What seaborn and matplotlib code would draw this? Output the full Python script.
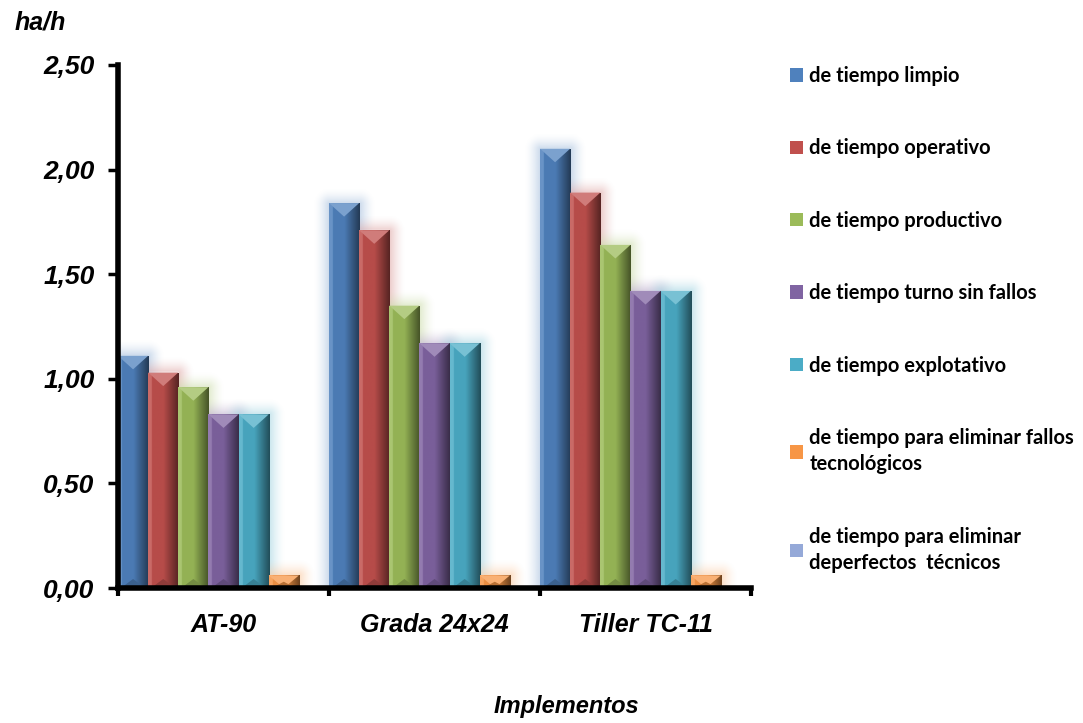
import numpy as np
import pandas as pd
import seaborn as sns
import matplotlib
matplotlib.use("Agg")
import matplotlib.pyplot as plt
from matplotlib.colors import to_rgb
from matplotlib.patches import Patch, Polygon
from matplotlib.ticker import FuncFormatter, FixedLocator

# --- data -------------------------------------------------------------
implementos = ["AT-90", "Grada 24x24", "Tiller TC-11"]
series = [
    "de tiempo limpio",
    "de tiempo operativo",
    "de tiempo productivo",
    "de tiempo turno sin fallos",
    "de tiempo explotativo",
    "de tiempo para eliminar fallos\ntecnológicos",
    "de tiempo para eliminar\ndeperfectos  técnicos",
]
limpio = [1.11, 1.84, 2.10]
operativo = [1.03, 1.71, 1.89]
productivo = [0.96, 1.35, 1.64]
turno_sin_fallos = [0.83, 1.17, 1.42]
explotativo = [0.83, 1.17, 1.42]
fallos_tecnologicos = [0.06, 0.06, 0.06]
desperfectos_tecnicos = [0.0, 0.0, 0.0]
y_ticks = [0.0, 0.5, 1.0, 1.5, 2.0, 2.5]

colores = ["#4F81BD", "#C0504D", "#9BBB59", "#8064A2",
           "#4BACC6", "#F79646", "#95A9D8"]

valores = [limpio, operativo, productivo, turno_sin_fallos,
           explotativo, fallos_tecnologicos, desperfectos_tecnicos]
df = pd.DataFrame(
    [(imp, s, v[i]) for s, v in zip(series, valores)
     for i, imp in enumerate(implementos)],
    columns=["Implemento", "Serie", "Valor"],
)

# --- figure -----------------------------------------------------------
sns.set_style("white")
plt.rcParams["text.color"] = "black"
plt.rcParams["xtick.color"] = "black"
plt.rcParams["ytick.color"] = "black"
plt.rcParams["axes.labelcolor"] = "black"

W, H = 1083, 723
fig = plt.figure(figsize=(W / 100, H / 100), dpi=100)
ax = fig.add_axes([118 / W, 1 - 588 / H, 633 / W, 523 / H])

sns.barplot(data=df, x="Implemento", y="Valor", hue="Serie",
            hue_order=series, order=implementos, palette=colores,
            saturation=1, width=1.0, gap=0, ax=ax, legend=False,
            edgecolor="none", linewidth=0, zorder=3)

ax.set_xlim(-0.5, 2.5)
ax.set_ylim(0, 2.5)

# pixel <-> data scale for shading details
px_x = (633 / 3.0)
px_y = (523 / 2.5)


def shade(c, f):
    c = np.array(to_rgb(c))
    if f >= 1:
        return np.clip(c + (1 - c) * (f - 1), 0, 1)
    return np.clip(c * f, 0, 1)


bars = [p for p in ax.patches if p.get_height() > 0]
for p in bars:
    x0, y0 = p.get_x(), p.get_y()
    w, h = p.get_width(), p.get_height()
    base = np.array(to_rgb(p.get_facecolor()))

    # soft halo around the top and right side
    R = 16.0
    m = R / px_x
    my = R / px_y
    gx = np.linspace(x0 - m, x0 + w + m, 80)
    gy = np.linspace(y0, y0 + h + my, 160)
    GX, GY = np.meshgrid(gx, gy)
    dx = np.maximum(np.maximum(x0 - GX, GX - (x0 + w)), 0) * px_x
    dy = np.maximum(GY - (y0 + h), 0) * px_y
    d = np.hypot(dx, dy)
    a = np.clip(1 - d / R, 0, 1) ** 1.6 * 0.6
    a[d == 0] = 0
    glow = np.zeros(GX.shape + (4,))
    glow[..., :3] = base * 0.5 + 0.5
    glow[..., 3] = a
    ax.imshow(glow, extent=(gx[0], gx[-1], gy[0], gy[-1]), origin="lower",
              aspect="auto", interpolation="bilinear", zorder=2)

    # horizontal bevel gradient across the bar
    u = np.linspace(0, 1, 64)
    f = np.where(u < 0.12, 1.15,
                 np.where(u < 0.5, 0.95, 0.95 - (u - 0.5) / 0.5 * 0.5))
    grad = np.array([shade(base, fi) for fi in f])[None, :, :]
    im = ax.imshow(grad, extent=(x0, x0 + w, y0, y0 + h), origin="lower",
                   aspect="auto", interpolation="bilinear", zorder=4)
    im.set_clip_path(p)

    # bevelled top facet
    th = min(0.45 * w * px_x / px_y, h)
    ax.add_patch(Polygon([(x0, y0 + h), (x0 + w, y0 + h),
                          (x0 + w / 2, y0 + h - th)], closed=True,
                         facecolor=shade(base, 1.25), edgecolor="none",
                         zorder=5))
    # darker bottom facet
    bh = min(0.3 * w * px_x / px_y, h / 2)
    ax.add_patch(Polygon([(x0 + 0.1 * w, y0), (x0 + 0.9 * w, y0),
                          (x0 + w / 2, y0 + bh)], closed=True,
                         facecolor=shade(base, 0.75), edgecolor="none",
                         zorder=5))

ax.set_xlim(-0.5, 2.5)
ax.set_ylim(0, 2.5)

# --- axes styling -----------------------------------------------------
for s in ["top", "right"]:
    ax.spines[s].set_visible(False)
for s in ["left", "bottom"]:
    ax.spines[s].set_linewidth(4)
    ax.spines[s].set_color("black")
    ax.spines[s].set_zorder(6)

tick_font = dict(family="Liberation Sans", weight="bold", style="italic")
ax.yaxis.set_major_locator(FixedLocator(y_ticks))
ax.yaxis.set_major_formatter(
    FuncFormatter(lambda v, _: f"{v:.2f}".replace(".", ",")))
ax.tick_params(axis="y", which="major", direction="out", length=7,
               width=2.5, color="black", pad=10, left=True,
               labelcolor="black")
ax.set_xticks(range(len(implementos)))
ax.set_xticklabels(implementos)
ax.tick_params(axis="x", which="major", length=0, pad=18,
               labelcolor="black")
ax.set_xticks([-0.5, 0.5, 1.5, 2.5], minor=True)
ax.tick_params(axis="x", which="minor", direction="out", length=6,
               width=3, color="black", bottom=True)
for lbl in ax.get_xticklabels():
    lbl.set_fontproperties(dict(tick_font, size=18))
    lbl.set_color("black")
for lbl in ax.get_yticklabels():
    lbl.set_fontproperties(dict(tick_font, size=19))
    lbl.set_color("black")

ax.set_xlabel("Implementos", fontsize=17, color="black", **tick_font)
ax.xaxis.set_label_coords(0.709, -0.205)
ax.set_ylabel("ha/h", fontsize=18, rotation=0, ha="center", va="center",
              color="black", **tick_font)
ax.yaxis.set_label_coords(-0.123, 1.082)

# --- legend -----------------------------------------------------------
handles = [Patch(facecolor=c, edgecolor="none") for c in colores]
leg = fig.legend(handles, series, loc="upper left",
                 bbox_to_anchor=(782 / W, 1 - 58 / H), frameon=False,
                 prop=dict(family="Lato", weight="bold", size=14.5),
                 handlelength=0.65, handleheight=0.65, handletextpad=0.3,
                 labelspacing=2.6, borderaxespad=0)
for t in leg.get_texts():
    t.set_linespacing(1.4)

fig.savefig("out.png", dpi=100, facecolor="white")
